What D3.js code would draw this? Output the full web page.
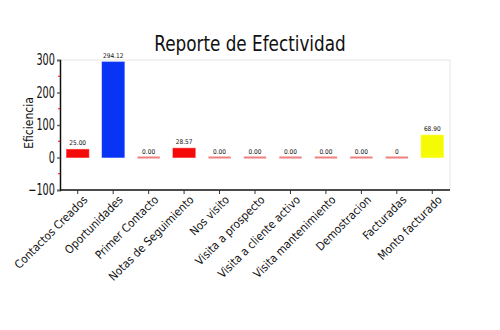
<!DOCTYPE html>
<html><head><meta charset="utf-8">
<script src="https://cdn.jsdelivr.net/npm/d3@7"></script>
<style>body{margin:0;background:#fff;} svg{display:block;} text{font-family:"DejaVu Sans",sans-serif;font-stretch:condensed;}</style>
</head><body><div id="chart"></div>
<script>
const categories = ["Contactos Creados","Oportunidades","Primer Contacto","Notas de Seguimiento","Nos visito","Visita a prospecto","Visita a cliente activo","Visita mantenimiento","Demostracion","Facturadas","Monto facturado"];
const values = [25.00, 294.12, 0, 28.57, 0, 0, 0, 0, 0, 0, 68.90];
const valueLabels = ["25.00","294.12","0.00","28.57","0.00","0.00","0.00","0.00","0.00","0","68.90"];
const barColors = ["#f50a0a","#0a34f5","#f08080","#f50a0a","#f08080","#f08080","#f08080","#f08080","#f08080","#f08080","#f5fa05"];
const yTicks = [-100, 0, 100, 200, 300];
const yMinorTicks = [-50, 50, 150, 250];

const W = 500, H = 330;
const m = {left: 60, right: 50, top: 60, bottom: 140};
const svg = d3.select("#chart").append("svg").attr("width", W).attr("height", H);

const x = d3.scaleBand().domain(categories).range([m.left, W - m.right]).paddingInner(0.37).paddingOuter(0.185);
const y = d3.scaleLinear().domain([-100, 300]).range([H - m.bottom, m.top]);

svg.append("line").attr("x1", m.left).attr("x2", W - m.right).attr("y1", y(300)).attr("y2", y(300)).attr("stroke", "#e4e4e4");
svg.append("line").attr("x1", W - m.right).attr("x2", W - m.right).attr("y1", y(300)).attr("y2", y(-100)).attr("stroke", "#e4e4e4");

svg.append("text").attr("transform", "translate(250,51) scale(0.85,1)").attr("text-anchor", "middle")
  .attr("font-size", 22).attr("fill", "#111").text("Reporte de Efectividad");

const zeroH = 2;
svg.selectAll("rect.bar").data(values).join("rect")
  .attr("x", (d, i) => x(categories[i]))
  .attr("width", x.bandwidth())
  .attr("y", d => d > 0 ? y(d) : y(0) - zeroH / 2)
  .attr("height", d => d > 0 ? y(0) - y(d) : zeroH)
  .attr("fill", (d, i) => barColors[i])
  .attr("stroke", (d, i) => d > 0 ? d3.color(barColors[i]).brighter(0.6) : "none")
  .attr("stroke-opacity", 0.5)
  .attr("stroke-width", 1);

svg.selectAll("text.vl").data(values).join("text")
  .attr("x", (d, i) => x(categories[i]) + x.bandwidth() / 2)
  .attr("y", d => (d > 0 ? y(d) : y(0)) - 4)
  .attr("text-anchor", "middle").attr("font-size", 6.5).attr("fill", "#111")
  .text((d, i) => valueLabels[i]);

const yAxis = d3.axisLeft(y).tickValues(yTicks).tickSize(3).tickPadding(4);
const ga = svg.append("g").attr("transform", `translate(${m.left},0)`).call(yAxis).attr("font-family", null);
ga.select(".domain").attr("stroke", "#111").attr("stroke-width", 1.5);
ga.selectAll(".tick line").attr("stroke", "#666").attr("stroke-width", 1.5);
ga.selectAll(".tick text").attr("font-size", 15).attr("fill", "#111").attr("transform", "scale(0.72,1)");
svg.append("g").selectAll("line").data(yMinorTicks).join("line")
  .attr("x1", m.left - 2).attr("x2", m.left).attr("y1", d => y(d)).attr("y2", d => y(d))
  .attr("stroke", "#f00").attr("stroke-width", 1);

svg.append("text").attr("transform", `translate(33,${(y(300)+y(-100))/2 - 2}) rotate(-90)`)
  .attr("text-anchor", "middle").attr("font-size", 12).attr("fill", "#111").text("Eficiencia");

const xAxis = d3.axisBottom(x).tickSize(4).tickPadding(4);
const gx = svg.append("g").attr("transform", `translate(0,${y(-100)})`).call(xAxis).attr("font-family", null);
gx.select(".domain").attr("stroke", "#111").attr("stroke-width", 1.5).attr("d", `M${m.left},0H${W - m.right}`);
gx.selectAll(".tick line").attr("stroke", "#333");
gx.selectAll(".tick text").attr("font-size", 11.5).attr("fill", "#111")
  .attr("text-anchor", "end").attr("dy", "0.35em")
  .attr("transform", "translate(2,2) rotate(-45)");
</script></body></html>
